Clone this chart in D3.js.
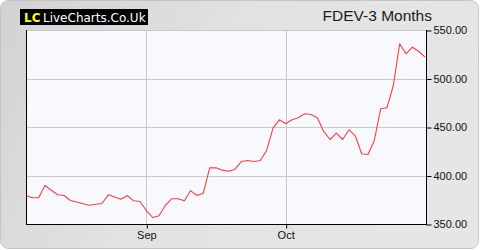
<!DOCTYPE html>
<html>
<head>
<meta charset="utf-8">
<script src="https://cdn.jsdelivr.net/npm/d3@7"></script>
<style>
html,body{margin:0;padding:0;background:#fff;}
svg{display:block;}
</style>
</head>
<body>
<div id="chart"></div>
<script>
// closing prices, one per trading day
const prices=[379.4,377,377,389.7,384.8,380.1,379.4,374.2,372.6,370.9,
    369.4,370.3,371.1,380.1,377.8,375.6,379.4,373.9,373.2,363.9,
    356.7,358.5,369.1,376,376,373.9,384.2,379.4,381.8,407.9,
    407.9,405.5,404.4,406.5,414.4,415.5,414.4,415.5,425.8,448.8,
    457.4,453.3,457.4,459.5,463.6,462.9,459.5,445.4,437.1,443.6,
    437.1,447.1,440.9,422.4,421.6,436.1,468.8,469.8,492.8,535.8,
    525.5,532.3,528.1,522];
const yTicks=[350,400,450,500,550];
const monthLabels=["Sep","Oct"];
const monthIndex=[19,41];
const title="FDEV-3 Months";

const width=480,height=250;
const plotLeft=26,plotRight=426,plotTop=30,plotBottom=224;

const svg=d3.select("#chart").append("svg")
    .attr("width",width)
    .attr("height",height);

const defs=svg.append("defs");
const grad=defs.append("linearGradient")
    .attr("id","bg")
    .attr("x1","0").attr("y1","0").attr("x2","1").attr("y2","0.3");
grad.append("stop").attr("offset","0").attr("stop-color","#d2d2d2");
grad.append("stop").attr("offset","0.5").attr("stop-color","#e2e2e2");
grad.append("stop").attr("offset","1").attr("stop-color","#e6e6e6");

svg.append("rect")
    .attr("x",0.5).attr("y",0.5)
    .attr("width",width-2).attr("height",height-2)
    .attr("rx",8)
    .attr("fill","url(#bg)")
    .attr("stroke","#c4c4c4");

const x=d3.scaleLinear().domain([0,prices.length-1]).range([plotLeft,plotRight-1]);
const y=d3.scaleLinear().domain([350,550]).range([plotBottom,plotTop]);

svg.append("rect")
    .attr("x",plotLeft).attr("y",plotTop)
    .attr("width",plotRight-plotLeft).attr("height",plotBottom-plotTop)
    .attr("fill","#f8f9ff");

// grid
svg.append("g")
    .attr("stroke","#c8c8c8")
    .selectAll("line")
    .data(yTicks.slice(1))
    .join("line")
    .attr("x1",plotLeft).attr("x2",plotRight)
    .attr("y1",d=>Math.round(y(d))+0.5)
    .attr("y2",d=>Math.round(y(d))+0.5);

svg.append("g")
    .attr("stroke","#c8c8c8")
    .selectAll("line")
    .data(monthIndex)
    .join("line")
    .attr("x1",d=>Math.round(x(d))+0.5)
    .attr("x2",d=>Math.round(x(d))+0.5)
    .attr("y1",plotTop).attr("y2",plotBottom);

// price line
const line=d3.line()
    .x((d,i)=>x(i))
    .y(d=>y(d));

svg.append("path")
    .datum(prices)
    .attr("fill","none")
    .attr("stroke","#ff3c3c")
    .attr("stroke-width",1.1)
    .attr("stroke-linejoin","round")
    .attr("d",line);

// axes frame
const frame=svg.append("g").attr("stroke","#000").attr("fill","none");
frame.append("line").attr("x1",plotLeft+0.5).attr("x2",plotLeft+0.5).attr("y1",plotTop).attr("y2",plotBottom+1);
frame.append("line").attr("x1",plotRight+0.5).attr("x2",plotRight+0.5).attr("y1",plotTop).attr("y2",plotBottom+1);
frame.append("line").attr("x1",plotLeft).attr("x2",plotRight+1).attr("y1",plotBottom+0.5).attr("y2",plotBottom+0.5);

// right axis
const yAxis=svg.append("g")
    .attr("transform",`translate(${plotRight+0.5},0)`)
    .call(d3.axisRight(y).tickValues(yTicks).tickFormat(d3.format(".2f")).tickSize(5).tickPadding(2));
yAxis.select(".domain").remove();
yAxis.selectAll("line").attr("stroke","#000").attr("transform","translate(0,0.5)");
yAxis.selectAll("text")
    .attr("fill","#111")
    .style("font-family","'Liberation Sans',Arial,sans-serif")
    .style("font-size","11px");

// bottom axis
const xAxis=svg.append("g")
    .attr("transform",`translate(0,${plotBottom+0.5})`)
    .call(d3.axisBottom(x).tickValues(monthIndex).tickFormat((d,i)=>monthLabels[i]).tickSize(4).tickPadding(3));
xAxis.select(".domain").remove();
xAxis.selectAll("line").attr("stroke","#000").attr("transform","translate(0.5,0)");
xAxis.selectAll("text")
    .attr("fill","#111")
    .style("font-family","'Liberation Sans',Arial,sans-serif")
    .style("font-size","11px");

// title
svg.append("text")
    .attr("x",432).attr("y",21)
    .attr("text-anchor","end")
    .attr("fill","#1a1a1a")
    .style("font-family","'Liberation Sans',Arial,sans-serif")
    .style("font-size","15.5px")
    .text(title);

// logo
const logo=svg.append("g");
logo.append("rect")
    .attr("x",20).attr("y",9)
    .attr("width",128).attr("height",16)
    .attr("fill","#000");
logo.append("text")
    .attr("x",24).attr("y",21.5)
    .attr("fill","#ffff00")
    .style("font-family","'DejaVu Sans',Verdana,sans-serif")
    .style("font-size","12px")
    .style("font-weight","bold")
    .text("LC");
logo.append("text")
    .attr("x",43).attr("y",21.5)
    .attr("fill","#fff")
    .style("font-family","'DejaVu Sans',Verdana,sans-serif")
    .style("font-size","12px")
    .text("LiveCharts.Co.Uk");
</script>
</body>
</html>
